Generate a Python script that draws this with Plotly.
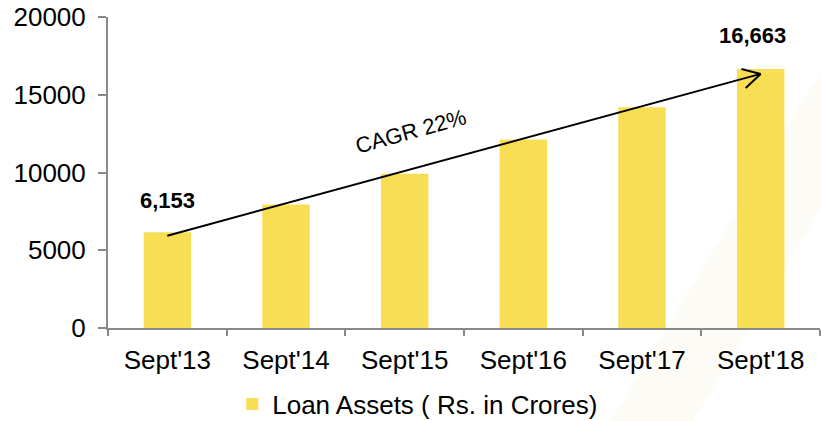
import plotly.graph_objects as go

categories = ["Sept'13", "Sept'14", "Sept'15", "Sept'16", "Sept'17", "Sept'18"]
loan_assets = [6153, 7950, 9920, 12130, 14190, 16663]
series_name = "Loan Assets ( Rs. in Crores)"
label_first = "6,153"
label_last = "16,663"
cagr_text = "CAGR 22%"

bar_color = "#F8DE54"
axis_color = "#898989"
font_family = "Liberation Sans, Arial, sans-serif"

fig = go.Figure()
fig.add_trace(go.Bar(
    x=categories, y=loan_assets, name=series_name,
    marker=dict(color=bar_color, line=dict(width=0)),
    width=0.4, showlegend=True,
))

# CAGR arrow line (from first bar to last bar)
arrow_start = (0, 5935)
arrow_end = (5, 16340)
fig.add_shape(type="line", x0=arrow_start[0], y0=arrow_start[1], x1=arrow_end[0], y1=arrow_end[1],
              xref="x", yref="y", line=dict(color="black", width=2))
# open V arrowhead
fig.add_shape(type="line", x0=4.838, y0=16656, x1=arrow_end[0], y1=arrow_end[1],
              xref="x", yref="y", line=dict(color="black", width=2))
fig.add_shape(type="line", x0=4.874, y0=15434, x1=arrow_end[0], y1=arrow_end[1],
              xref="x", yref="y", line=dict(color="black", width=2))

# faint diagonal background stripe
fig.add_shape(type="path", xref="paper", yref="paper", layer="below",
              path="M 0.705 -0.3 L 0.822 -0.3 L 1.002 0.386 L 1.002 0.83 Z",
              fillcolor="#FDFBF6", line=dict(width=0))

fig.add_annotation(x=0, y=8230, xref="x", yref="y", text="<b>" + label_first + "</b>",
                   showarrow=False, font=dict(size=22, color="black", family=font_family))
fig.add_annotation(x=5, y=18840, xref="x", yref="y", text="<b>" + label_last + "</b>",
                   showarrow=False, xshift=-8, font=dict(size=22, color="black", family=font_family))
fig.add_annotation(x=2.05, y=12630, xref="x", yref="y", text=cagr_text, textangle=-15.5,
                   showarrow=False, font=dict(size=22, color="black", family=font_family))

fig.update_layout(
    width=821, height=421,
    margin=dict(l=108, r=1, t=17, b=93, autoexpand=False),
    paper_bgcolor="white", plot_bgcolor="white",
    font=dict(family=font_family, size=26, color="black"),
    bargap=0.6,
    legend=dict(orientation="h", x=0.435, xanchor="center", y=-0.245, yanchor="middle",
                font=dict(size=26, color="black"), itemwidth=30, bgcolor="rgba(0,0,0,0)"),
    xaxis=dict(type="category", range=[-0.5, 5.5], showline=True, linecolor=axis_color, linewidth=2,
               ticks="outside", tickson="boundaries", ticklen=6, tickwidth=2, tickcolor=axis_color,
               showgrid=False, tickfont=dict(size=26), ticklabelstandoff=8, automargin=False),
    yaxis=dict(range=[0, 20000], dtick=5000, showline=True, linecolor=axis_color, linewidth=2,
               ticks="outside", ticklen=8, tickwidth=2, tickcolor=axis_color, showgrid=False,
               zeroline=False, tickfont=dict(size=26), ticklabelstandoff=7, tickformat="d",
               automargin=False),
)

fig.write_html("out.html", config={"displayModeBar": False},
               post_script="document.body.style.margin='0';document.body.style.overflow='hidden';")
